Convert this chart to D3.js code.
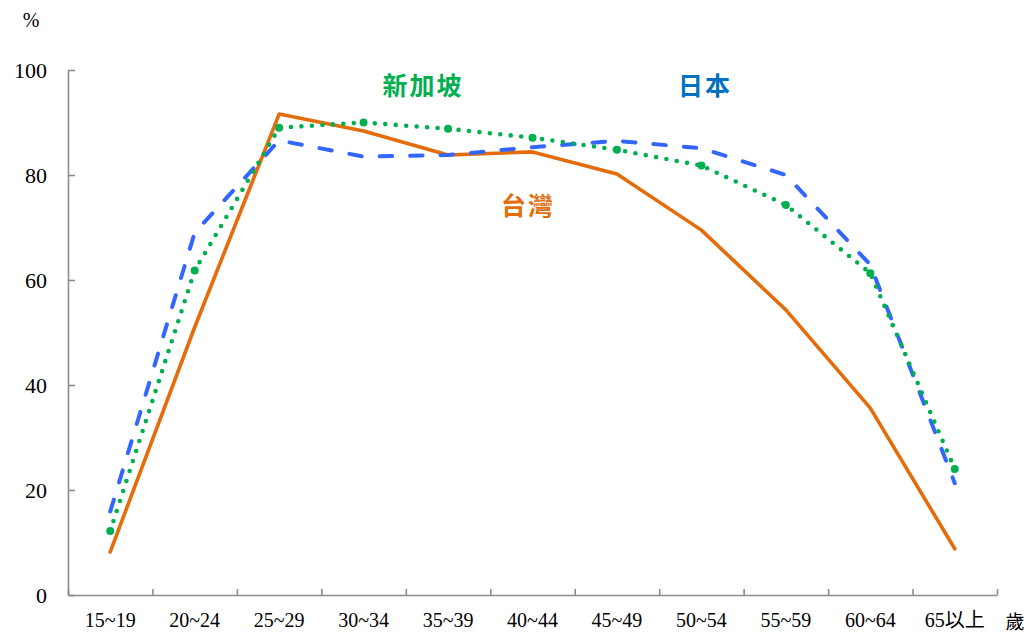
<!DOCTYPE html>
<html>
<head>
<meta charset="utf-8">
<script src="https://cdn.jsdelivr.net/npm/d3@7"></script>
<style>
  html, body { margin: 0; padding: 0; background: #fff; }
  svg { display: block; }
  .axis text { font-family: "Liberation Serif", "Noto Sans CJK TC", serif; fill: #000; }
  .axis path, .axis line { stroke: #8c8c8c; stroke-width: 1.6; }
</style>
</head>
<body>
<svg id="chart" width="1028" height="633"></svg>
<script>
// Labour force participation rate by age group (%)
const ageGroups = ["15~19", "20~24", "25~29", "30~34", "35~39", "40~44", "45~49", "50~54", "55~59", "60~64", "65以上"];
const taiwan    = [8.2, 51.0, 91.6, 88.4, 83.8, 84.4, 80.2, 69.5, 54.3, 35.6, 8.8];
const singapore = [12.2, 61.8, 89.0, 90.0, 88.8, 87.1, 84.8, 81.8, 74.3, 61.3, 24.0];
const japan     = [15.9, 69.0, 86.6, 83.5, 83.8, 85.3, 86.5, 85.1, 80.0, 62.9, 21.3];
const yTicks    = [0, 20, 40, 60, 80, 100];

const svg = d3.select("#chart");
const plotLeft = 68, plotRight = 997, plotTop = 70, plotBottom = 595;

const x = d3.scaleBand().domain(ageGroups).range([plotLeft, plotRight]);
const xEdge = d3.scaleLinear().domain([0, ageGroups.length]).range([plotLeft, plotRight]);
const y = d3.scaleLinear().domain([0, 100]).range([plotBottom, plotTop]);
const cx = d => x(d) + x.bandwidth() / 2;

// y axis, ticks pointing inward
const yAxis = svg.append("g").attr("class", "axis")
  .attr("transform", `translate(${plotLeft},0)`)
  .call(d3.axisLeft(y).tickValues(yTicks).tickSize(-7).tickSizeOuter(0).tickPadding(21));
yAxis.selectAll("text").style("font-size", "22px");

// x axis: tick marks on category boundaries
svg.append("g").attr("class", "axis")
  .attr("transform", `translate(0,${plotBottom})`)
  .call(d3.axisBottom(xEdge).tickValues(d3.range(ageGroups.length + 1)).tickSize(-6).tickSizeOuter(0).tickFormat(""));

// x axis: category labels at band centres
const xLab = svg.append("g").attr("class", "axis")
  .attr("transform", `translate(0,${plotBottom})`)
  .call(d3.axisBottom(x).tickSize(0).tickPadding(18));
xLab.select(".domain").remove();
xLab.selectAll("text").style("font-size", "20px");

// unit labels
svg.append("text").attr("x", 31).attr("y", 27).attr("text-anchor", "middle")
  .style("font-family", "Liberation Serif, serif").style("font-size", "20px").text("%");
svg.append("text").attr("x", 1015).attr("y", 629).attr("text-anchor", "middle")
  .style("font-family", "Noto Sans CJK TC, sans-serif").style("font-size", "19px").text("歲");

const line = d3.line().x((d, i) => cx(ageGroups[i])).y(d => y(d));

// Taiwan: solid orange
svg.append("path").datum(taiwan).attr("d", line)
  .attr("fill", "none").attr("stroke", "#E46C0A").attr("stroke-width", 3.6)
  .attr("stroke-linejoin", "round").attr("stroke-linecap", "round");

// Japan: long dash blue
svg.append("path").datum(japan).attr("d", line)
  .attr("fill", "none").attr("stroke", "#3366FF").attr("stroke-width", 4)
  .attr("stroke-dasharray", "12.5,18").attr("stroke-linecap", "round")
  .attr("stroke-linejoin", "round");

// Singapore: round dots with markers at each point
svg.append("path").datum(singapore).attr("d", line)
  .attr("fill", "none").attr("stroke", "#00B050").attr("stroke-width", 4.6)
  .attr("stroke-dasharray", "0,10.5").attr("stroke-linecap", "round")
  .attr("stroke-linejoin", "round");
svg.append("g").selectAll("circle").data(singapore).join("circle")
  .attr("cx", (d, i) => cx(ageGroups[i])).attr("cy", d => y(d)).attr("r", 4)
  .attr("fill", "#00B050");

// series labels
const seriesLabels = [
  { name: "新加坡", color: "#00B050", x: 423, y: 95 },
  { name: "日本",   color: "#0070C0", x: 705, y: 95 },
  { name: "台灣",   color: "#E46C0A", x: 528, y: 215 }
];
svg.append("g").selectAll("text").data(seriesLabels).join("text")
  .attr("x", d => d.x).attr("y", d => d.y).attr("text-anchor", "middle")
  .attr("fill", d => d.color)
  .style("font-family", "Noto Sans CJK TC, sans-serif").style("font-size", "25px")
  .style("font-weight", "bold").style("letter-spacing", "2px")
  .text(d => d.name);
</script>
</body>
</html>
